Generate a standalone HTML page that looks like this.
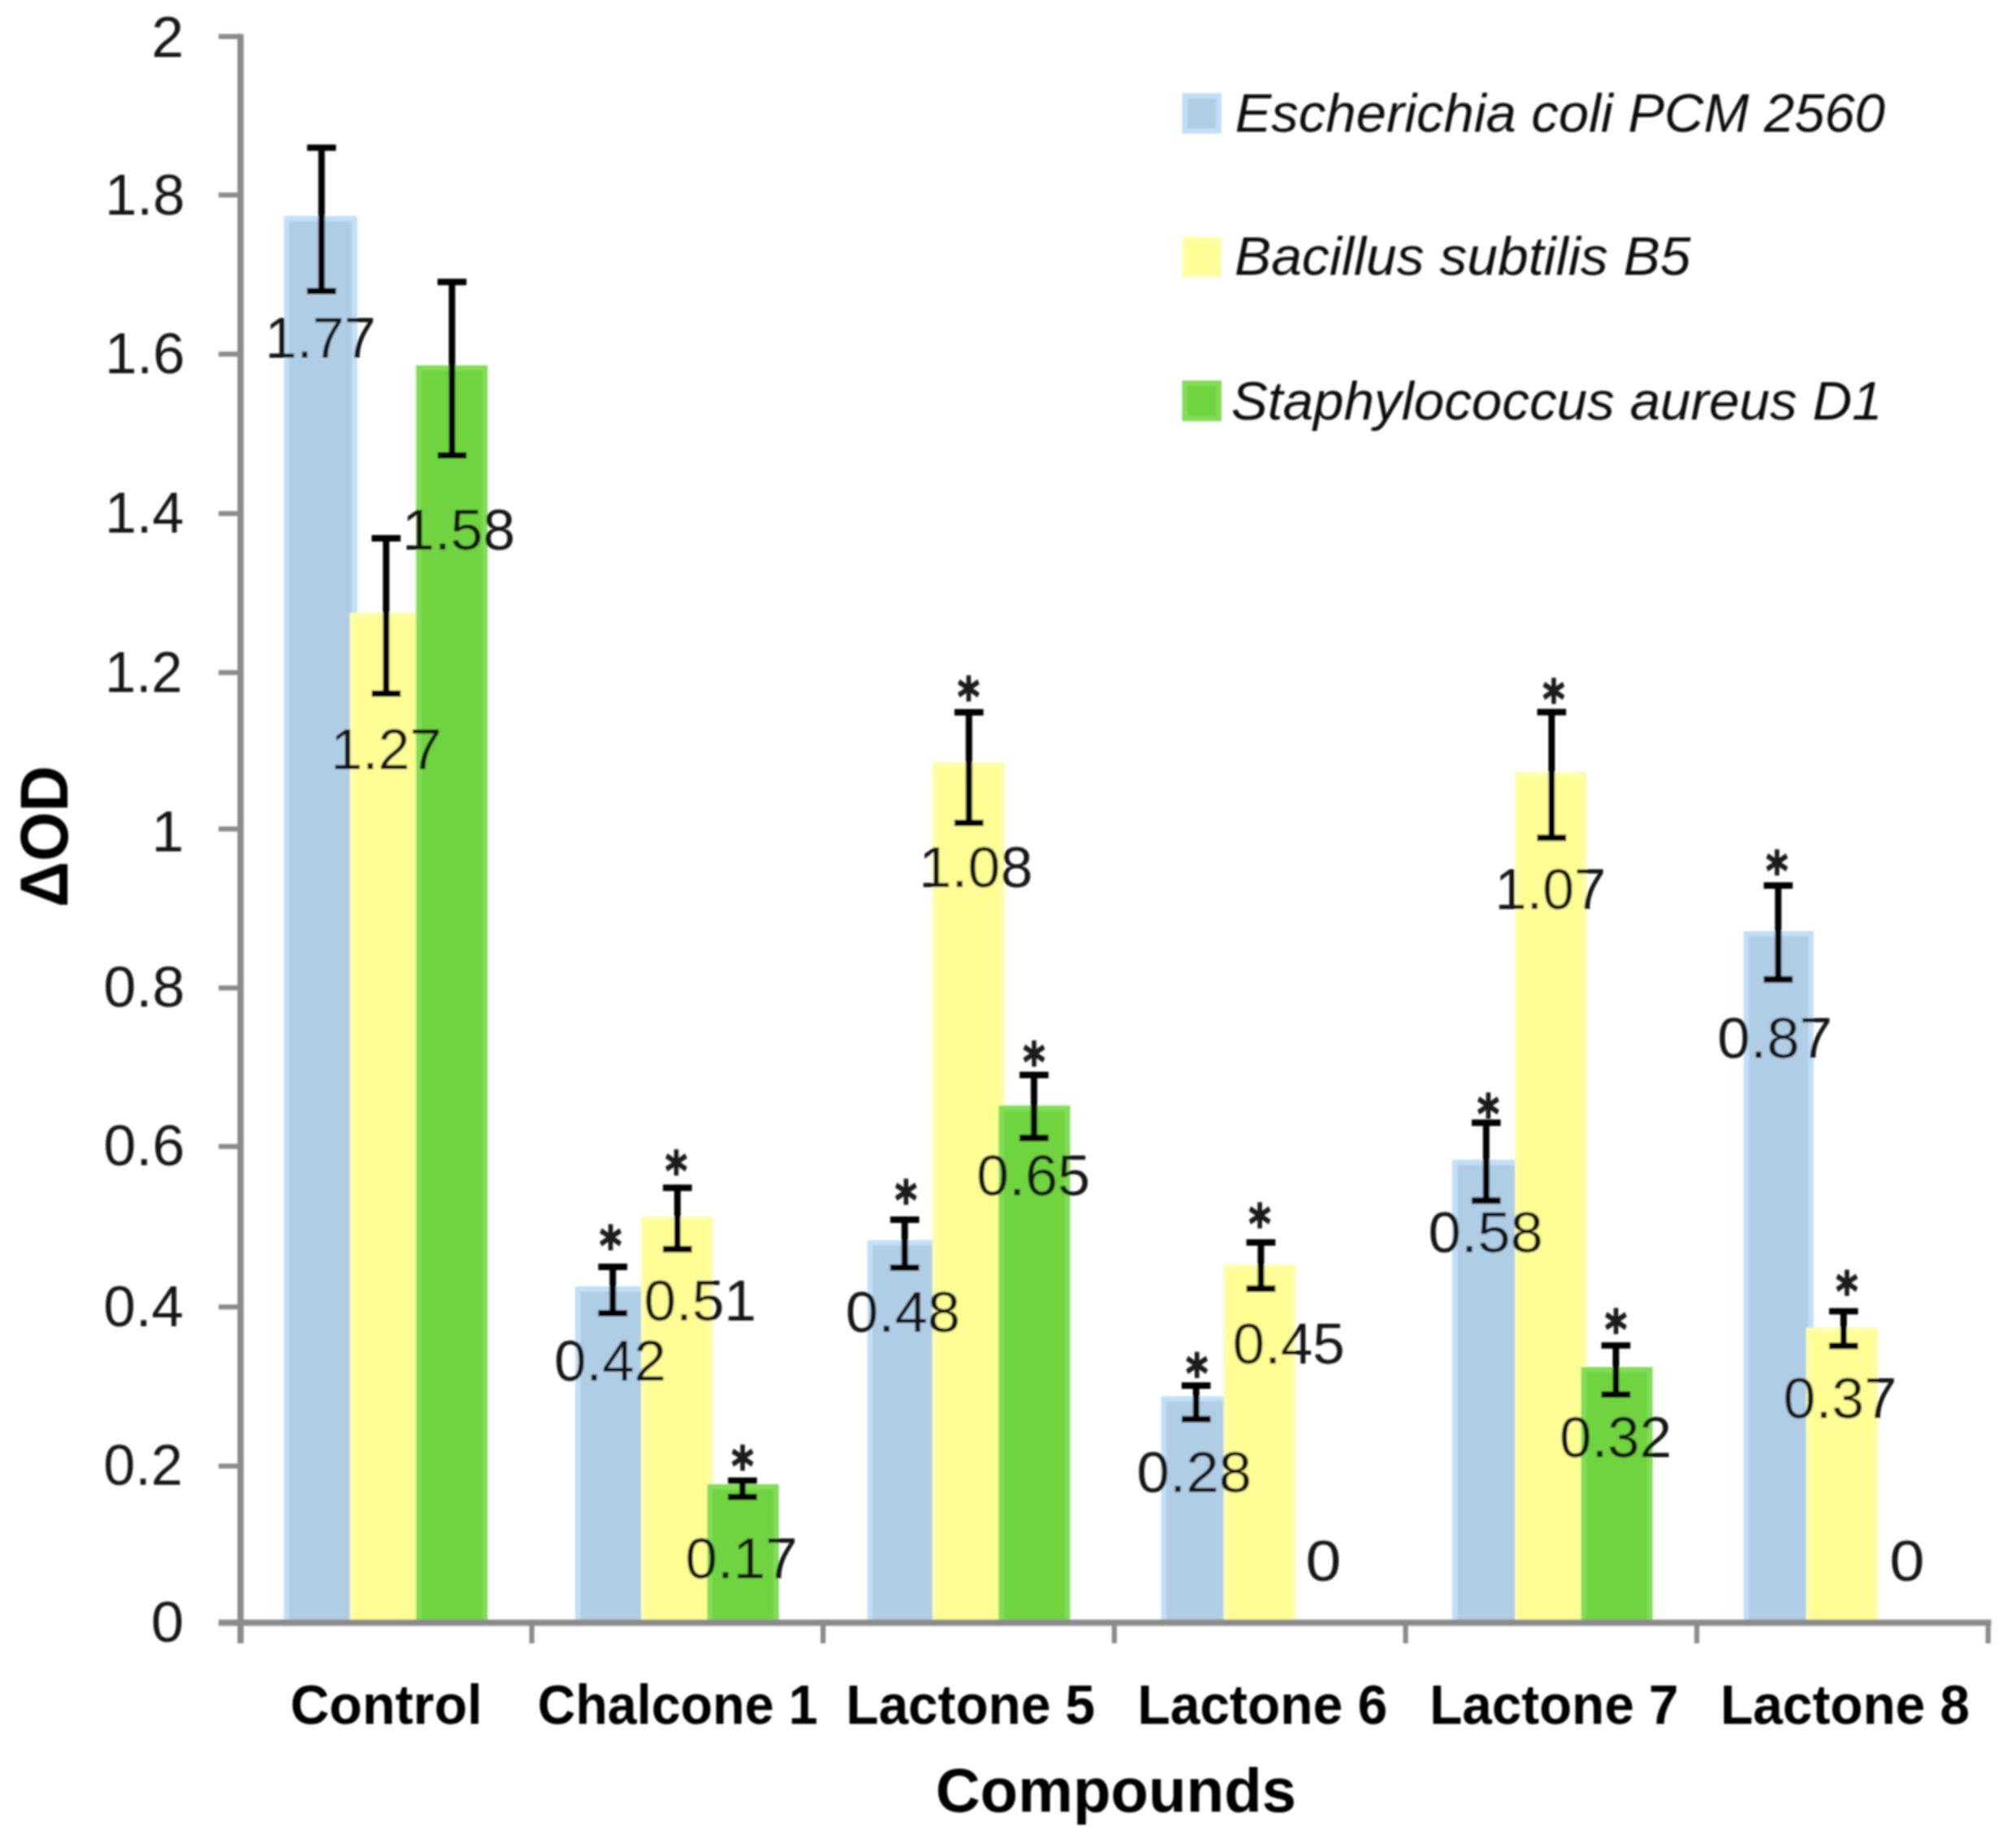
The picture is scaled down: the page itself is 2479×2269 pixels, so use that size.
<!DOCTYPE html>
<html lang="en"><head><meta charset="utf-8"><title>Chart</title><style>html,body{margin:0;padding:0;background:#fff}svg{display:block}</style></head><body>
<svg width="2479" height="2269" viewBox="0 0 2479 2269" font-family='"Liberation Sans", sans-serif' fill="#161616">
<defs><filter id="soft" x="0" y="0" width="2479" height="2269" filterUnits="userSpaceOnUse"><feGaussianBlur stdDeviation="1.1"/></filter></defs>
<rect width="2479" height="2269" fill="#fff"/>
<g filter="url(#soft)">
<g>
<rect x="349.10" y="265.50" width="90.30" height="1730.10" fill="#c3dff7"/>
<rect x="355.60" y="272.00" width="77.30" height="1723.60" fill="#b0cde6"/>
<rect x="430.10" y="753.60" width="88.60" height="1242.00" fill="#fffea8"/>
<rect x="436.60" y="760.10" width="75.60" height="1235.50" fill="#fefe94"/>
<rect x="511.60" y="449.30" width="88.00" height="1546.30" fill="#82dc58"/>
<rect x="518.10" y="455.80" width="75.00" height="1539.80" fill="#6fd440"/>
<rect x="707.25" y="1581.90" width="90.30" height="413.70" fill="#c3dff7"/>
<rect x="713.75" y="1588.40" width="77.30" height="407.20" fill="#b0cde6"/>
<rect x="788.25" y="1496.20" width="88.60" height="499.40" fill="#fffea8"/>
<rect x="794.75" y="1502.70" width="75.60" height="492.90" fill="#fefe94"/>
<rect x="869.75" y="1825.30" width="88.00" height="170.30" fill="#82dc58"/>
<rect x="876.25" y="1831.80" width="75.00" height="163.80" fill="#6fd440"/>
<rect x="1066.50" y="1525.20" width="89.20" height="470.40" fill="#c3dff7"/>
<rect x="1073.00" y="1531.70" width="76.20" height="463.90" fill="#b0cde6"/>
<rect x="1146.40" y="937.60" width="88.60" height="1058.00" fill="#fffea8"/>
<rect x="1152.90" y="944.10" width="75.60" height="1051.50" fill="#fefe94"/>
<rect x="1227.90" y="1359.60" width="88.00" height="636.00" fill="#82dc58"/>
<rect x="1234.40" y="1366.10" width="75.00" height="629.50" fill="#6fd440"/>
<rect x="1427.75" y="1717.20" width="86.10" height="278.40" fill="#c3dff7"/>
<rect x="1434.25" y="1723.70" width="73.10" height="271.90" fill="#b0cde6"/>
<rect x="1504.55" y="1555.40" width="88.60" height="440.20" fill="#fffea8"/>
<rect x="1511.05" y="1561.90" width="75.60" height="433.70" fill="#fefe94"/>
<rect x="1785.50" y="1426.20" width="86.50" height="569.40" fill="#c3dff7"/>
<rect x="1792.00" y="1432.70" width="73.50" height="562.90" fill="#b0cde6"/>
<rect x="1862.70" y="949.50" width="88.60" height="1046.10" fill="#fffea8"/>
<rect x="1869.20" y="956.00" width="75.60" height="1039.60" fill="#fefe94"/>
<rect x="1944.20" y="1681.20" width="88.00" height="314.40" fill="#82dc58"/>
<rect x="1950.70" y="1687.70" width="75.00" height="307.90" fill="#6fd440"/>
<rect x="2144.05" y="1145.00" width="86.10" height="850.60" fill="#c3dff7"/>
<rect x="2150.55" y="1151.50" width="73.10" height="844.10" fill="#b0cde6"/>
<rect x="2220.85" y="1632.50" width="88.60" height="363.10" fill="#fffea8"/>
<rect x="2227.35" y="1639.00" width="75.60" height="356.60" fill="#fefe94"/>
</g>
<g stroke="#8b8b8b" stroke-width="7.6" fill="none" stroke-linecap="butt">
<path d="M295.8 41.80V2021"/>
<path d="M268.8 1995.6H2448.50"/>
<path stroke-width="6.2" d="M268.8 1803.00H295.8"/>
<path stroke-width="6.2" d="M268.8 1607.30H295.8"/>
<path stroke-width="6.2" d="M268.8 1410.00H295.8"/>
<path stroke-width="6.2" d="M268.8 1215.00H295.8"/>
<path stroke-width="6.2" d="M268.8 1019.50H295.8"/>
<path stroke-width="6.2" d="M268.8 827.20H295.8"/>
<path stroke-width="6.2" d="M268.8 631.60H295.8"/>
<path stroke-width="6.2" d="M268.8 435.50H295.8"/>
<path stroke-width="6.2" d="M268.8 239.80H295.8"/>
<path stroke-width="6.2" d="M268.8 44.90H295.8"/>
<path stroke-width="6.2" d="M653.95 1995.6V2021"/>
<path stroke-width="6.2" d="M1012.10 1995.6V2021"/>
<path stroke-width="6.2" d="M1370.25 1995.6V2021"/>
<path stroke-width="6.2" d="M1728.40 1995.6V2021"/>
<path stroke-width="6.2" d="M2086.55 1995.6V2021"/>
<path stroke-width="6.2" d="M2444.70 1995.6V2021"/>
</g>
<g stroke="#000" stroke-width="7.9" fill="none">
<path d="M377.6 181.6H413.2M377.6 358H413.2M395.4 181.6V358"/>
<path d="M457.0 662H492.6M457.0 853H492.6M474.8 662V853"/>
<path d="M538.0 346.8H573.6M538.0 560H573.6M555.8 346.8V560"/>
<path d="M735.7 1558H771.3M735.7 1615H771.3M753.5 1558V1615"/>
<path d="M815.2 1460.7H850.8M815.2 1536.3H850.8M833 1460.7V1536.3"/>
<path d="M895.2 1821H930.8M895.2 1841H930.8M913 1821V1841"/>
<path d="M1094.7 1500H1130.3M1094.7 1559H1130.3M1112.5 1500V1559"/>
<path d="M1173.7 876H1209.3M1173.7 1012H1209.3M1191.5 876V1012"/>
<path d="M1253.7 1322H1289.3M1253.7 1399.5H1289.3M1271.5 1322V1399.5"/>
<path d="M1453.0 1704H1488.6M1453.0 1745.4H1488.6M1470.8 1704V1745.4"/>
<path d="M1532.7 1528H1568.3M1532.7 1584.7H1568.3M1550.5 1528V1584.7"/>
<path d="M1809.7 1380.7H1845.3M1809.7 1476.5H1845.3M1827.5 1380.7V1476.5"/>
<path d="M1890.2 875.8H1925.8M1890.2 1030.4H1925.8M1908 875.8V1030.4"/>
<path d="M1969.2 1654.6H2004.8M1969.2 1715H2004.8M1987 1654.6V1715"/>
<path d="M2168.8 1089H2204.4M2168.8 1204.5H2204.4M2186.6 1089V1204.5"/>
<path d="M2249.2 1612.6H2284.8M2249.2 1655.3H2284.8M2267 1612.6V1655.3"/>
</g>
<g font-family='"DejaVu Sans", sans-serif' font-size="52" font-weight="bold" text-anchor="middle" fill="#1a1a1a" stroke="#1a1a1a" stroke-width="1.2">
<text transform="translate(750.8 1555.0) scale(1 1.25)">*</text>
<text transform="translate(831.5 1463.0) scale(1 1.25)">*</text>
<text transform="translate(913 1825.5) scale(1 1.25)">*</text>
<text transform="translate(1114 1499.0) scale(1 1.25)">*</text>
<text transform="translate(1191 880.0) scale(1 1.25)">*</text>
<text transform="translate(1271.5 1328.5) scale(1 1.25)">*</text>
<text transform="translate(1471.8 1712.0) scale(1 1.25)">*</text>
<text transform="translate(1549 1528.0) scale(1 1.25)">*</text>
<text transform="translate(1830 1393.0) scale(1 1.25)">*</text>
<text transform="translate(1910.5 883.0) scale(1 1.25)">*</text>
<text transform="translate(1987 1658.0) scale(1 1.25)">*</text>
<text transform="translate(2185 1094.0) scale(1 1.25)">*</text>
<text transform="translate(2271 1611.0) scale(1 1.25)">*</text>
</g>
<g>
<text transform="translate(326.03 440.00) scale(1.0062 1)" font-size="69.5" >1.77</text>
<text transform="translate(406.63 945.80) scale(1.0070 1)" font-size="69.5" >1.27</text>
<text transform="translate(494.54 676.00) scale(1.0273 1)" font-size="69.5" >1.58</text>
<text transform="translate(681.39 1697.60) scale(1.0194 1)" font-size="69.5" >0.42</text>
<text transform="translate(791.68 1623.70) scale(1.0240 1)" font-size="69.5" >0.51</text>
<text transform="translate(842.79 1941.00) scale(1.0186 1)" font-size="69.5" >0.17</text>
<text transform="translate(1039.73 1638.00) scale(1.0439 1)" font-size="69.5" >0.48</text>
<text transform="translate(1129.90 1091.00) scale(1.0351 1)" font-size="69.5" >1.08</text>
<text transform="translate(1200.75 1470.00) scale(1.0339 1)" font-size="69.5" >0.65</text>
<text transform="translate(1397.73 1835.00) scale(1.0470 1)" font-size="69.5" >0.28</text>
<text transform="translate(1515.79 1677.00) scale(1.0186 1)" font-size="69.5" >0.45</text>
<text transform="translate(1605.54 1944.40) scale(1.1309 1)" font-size="69.5" >0</text>
<text transform="translate(1756.33 1540.00) scale(1.0447 1)" font-size="69.5" >0.58</text>
<text transform="translate(1838.21 1117.80) scale(1.0101 1)" font-size="69.5" >1.07</text>
<text transform="translate(1917.79 1792.40) scale(1.0186 1)" font-size="69.5" >0.32</text>
<text transform="translate(2111.73 1301.00) scale(1.0470 1)" font-size="69.5" >0.87</text>
<text transform="translate(2192.76 1743.70) scale(1.0316 1)" font-size="69.5" >0.37</text>
<text transform="translate(2323.58 1943.70) scale(1.1137 1)" font-size="69.5" >0</text>
</g><g>
<text transform="translate(185.74 2018.90) scale(1.0417 1)" font-size="69.5" >0</text>
<text transform="translate(127.31 1826.30) scale(1.0074 1)" font-size="69.5" >0.2</text>
<text transform="translate(127.29 1630.60) scale(1.0193 1)" font-size="69.5" >0.4</text>
<text transform="translate(127.26 1433.30) scale(1.0335 1)" font-size="69.5" >0.6</text>
<text transform="translate(127.35 1238.30) scale(1.0346 1)" font-size="69.5" >0.8</text>
<text transform="translate(186.54 1046.80) scale(1.0257 1)" font-size="69.5" >1</text>
<text transform="translate(129.12 850.50) scale(0.9849 1)" font-size="69.5" >1.2</text>
<text transform="translate(129.03 654.90) scale(1.0051 1)" font-size="69.5" >1.4</text>
<text transform="translate(128.98 458.80) scale(1.0173 1)" font-size="69.5" >1.6</text>
<text transform="translate(128.98 264.40) scale(1.0173 1)" font-size="69.5" >1.8</text>
<text transform="translate(186.15 70.20) scale(1.0283 1)" font-size="69.5" >2</text>
</g><g font-weight="bold" fill="#000">
<text transform="translate(356.93 2120.40) scale(0.9763 1)" font-size="68.0" >Control</text>
<text transform="translate(660.98 2120.40) scale(0.9500 1)" font-size="68.0" >Chalcone 1</text>
<text transform="translate(1040.30 2120.40) scale(0.9651 1)" font-size="68.0" >Lactone 5</text>
<text transform="translate(1398.68 2120.40) scale(0.9683 1)" font-size="68.0" >Lactone 6</text>
<text transform="translate(1757.90 2120.40) scale(0.9648 1)" font-size="68.0" >Lactone 7</text>
<text transform="translate(2115.39 2120.40) scale(0.9667 1)" font-size="68.0" >Lactone 8</text>
</g><g font-style="italic" fill="#111">
<text transform="translate(1518.75 162.40) scale(1.0136 1)" font-size="66.0" >Escherichia coli PCM 2560</text>
<rect x="1453.6" y="114.5" width="48.4" height="50" fill="#c3dff7"/><rect x="1460.1" y="121.0" width="35.4" height="37" fill="#b0cde6"/>
<text transform="translate(1517.94 338.20) scale(1.0267 1)" font-size="66.0" >Bacillus subtilis B5</text>
<rect x="1453.6" y="291.2" width="48.4" height="50" fill="#fffea8"/><rect x="1460.1" y="297.7" width="35.4" height="37" fill="#fefe94"/>
<text transform="translate(1513.95 516.00) scale(1.0201 1)" font-size="66.0" >Staphylococcus aureus D1</text>
<rect x="1453.6" y="468" width="48.4" height="50" fill="#82dc58"/><rect x="1460.1" y="474.5" width="35.4" height="37" fill="#6fd440"/>
</g>
<g font-weight="bold" fill="#000">
<text transform="translate(1150.42 2228.40) scale(1.0009 1)" font-size="76" >Compounds</text>
<text transform="translate(83 1115.85) rotate(-90) scale(0.9351 1)" font-size="84">ΔOD</text>
</g></g></svg>
</body></html>
